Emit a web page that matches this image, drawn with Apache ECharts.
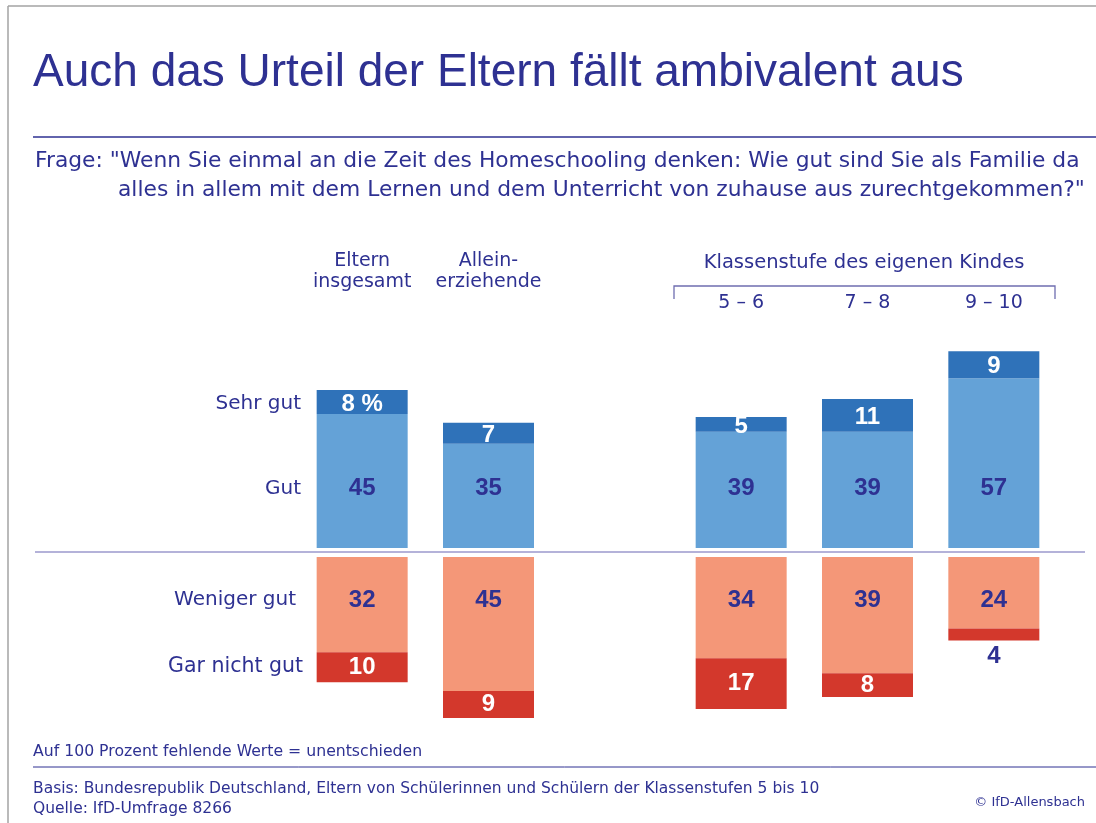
<!DOCTYPE html>
<html>
<head>
<meta charset="utf-8">
<script src="https://cdn.jsdelivr.net/npm/echarts@6/dist/echarts.min.js"></script>
<style>
  html, body { margin: 0; padding: 0; background: #fff; }
  #chart { width: 1096px; height: 823px; }
</style>
</head>
<body>
<div id="chart"></div>
<script>
// columns (the empty one is the gap between the two groups)
const categories = ['Eltern\ninsgesamt\n', 'Allein-\nerziehende\n', '', '5 – 6', '7 – 8', '9 – 10']
const sehrGut = [8, 7, null, 5, 11, 9]
const gut = [45, 35, null, 39, 39, 57]
const wenigerGut = [32, 45, null, 34, 39, 24]
const garNichtGut = [10, 9, null, 17, 8, 4]
const rowLabels = ['Sehr gut', 'Gut', 'Weniger gut', 'Gar nicht gut']

const NAVY = '#2e3192'
const LINE = '#9b98cc'
const FONT = 'Liberation Sans, Arial, sans-serif'
const WIDE = 'DejaVu Sans, sans-serif'

// same pixel scale for both halves
const PX = 2.98
const YMAX = 78
const posBottom = 548
const negTop = 557

const gridLeft = 299
const gridWidth = 758

const barLabel = {
  show: true,
  fontFamily: FONT,
  fontWeight: 'bold',
  fontSize: 24
}

const chart = echarts.init(document.getElementById('chart'))

const option = {
  animation: false,
  backgroundColor: '#fff',
  grid: [
    { left: gridLeft, width: gridWidth, top: posBottom - PX * YMAX, height: PX * YMAX },
    { left: gridLeft, width: gridWidth, top: negTop, height: PX * YMAX }
  ],
  xAxis: [
    {
      type: 'category',
      gridIndex: 0,
      position: 'top',
      data: categories,
      axisLine: { show: false },
      axisTick: { show: false },
      axisLabel: {
        interval: 0,
        margin: 2,
        color: NAVY,
        fontFamily: WIDE,
        fontSize: 19,
        lineHeight: 21
      }
    },
    {
      type: 'category',
      gridIndex: 1,
      data: categories,
      show: false
    }
  ],
  yAxis: [
    { type: 'value', gridIndex: 0, min: 0, max: YMAX, show: false },
    { type: 'value', gridIndex: 1, min: 0, max: YMAX, inverse: true, show: false }
  ],
  series: [
    {
      name: 'Gut',
      type: 'bar',
      stack: 'pos',
      xAxisIndex: 0,
      yAxisIndex: 0,
      barWidth: 91,
      data: gut,
      itemStyle: { color: '#64a2d7' },
      label: { ...barLabel, color: NAVY, position: 'insideBottom', distance: 48 }
    },
    {
      name: 'Sehr gut',
      type: 'bar',
      stack: 'pos',
      xAxisIndex: 0,
      yAxisIndex: 0,
      barWidth: 91,
      data: sehrGut,
      itemStyle: { color: '#2f72b9' },
      label: {
        ...barLabel,
        color: '#fff',
        position: 'inside',
        offset: [0, 2],
        formatter: (p) => (p.dataIndex === 0 ? p.value + ' %' : p.value)
      }
    },
    {
      name: 'Weniger gut',
      type: 'bar',
      stack: 'neg',
      xAxisIndex: 1,
      yAxisIndex: 1,
      barWidth: 91,
      data: wenigerGut,
      itemStyle: { color: '#f49778' },
      label: { ...barLabel, color: NAVY, position: 'insideTop', distance: 31 }
    },
    {
      name: 'Gar nicht gut',
      type: 'bar',
      stack: 'neg',
      xAxisIndex: 1,
      yAxisIndex: 1,
      barWidth: 91,
      // too thin segments get their number below the bar
      data: garNichtGut.map((v) =>
        v != null && v < 6
          ? { value: v, label: { position: 'bottom', color: NAVY, distance: 4 } }
          : v
      ),
      itemStyle: { color: '#d3382c' },
      label: { ...barLabel, color: '#fff', position: 'inside' }
    }
  ],
  graphic: [
    // frame
    { type: 'line', shape: { x1: 8, y1: 6, x2: 1096, y2: 6 }, style: { stroke: '#a3a3a3', lineWidth: 1.5 } },
    { type: 'line', shape: { x1: 8, y1: 6, x2: 8, y2: 823 }, style: { stroke: '#a3a3a3', lineWidth: 1.5 } },
    {
      type: 'text', left: 33, top: 50,
      style: { text: 'Auch das Urteil der Eltern fällt ambivalent aus', fill: NAVY, font: '46px ' + FONT }
    },
    { type: 'line', shape: { x1: 33, y1: 137, x2: 1096, y2: 137 }, style: { stroke: NAVY, lineWidth: 1.5 } },
    {
      type: 'text', left: 35, top: 150,
      style: {
        text: 'Frage: "Wenn Sie einmal an die Zeit des Homeschooling denken: Wie gut sind Sie als Familie da',
        fill: NAVY, font: '21.8px ' + WIDE
      }
    },
    {
      type: 'text', left: 118, top: 179,
      style: {
        text: 'alles in allem mit dem Lernen und dem Unterricht von zuhause aus zurechtgekommen?"',
        fill: NAVY, font: '21.8px ' + WIDE
      }
    },
    // group header with bracket
    {
      type: 'text', x: 864, y: 263,
      style: { text: 'Klassenstufe des eigenen Kindes', fill: NAVY, font: '19.5px ' + WIDE, align: 'center', verticalAlign: 'middle' }
    },
    {
      type: 'polyline',
      shape: { points: [[674, 299], [674, 286], [1055, 286], [1055, 299]] },
      style: { stroke: '#6f6db0', lineWidth: 1.3, fill: null }
    },
    // row labels
    { type: 'text', x: 301, y: 404, style: { text: rowLabels[0], fill: NAVY, font: '20px ' + WIDE, align: 'right', verticalAlign: 'middle' } },
    { type: 'text', x: 301, y: 489, style: { text: rowLabels[1], fill: NAVY, font: '20px ' + WIDE, align: 'right', verticalAlign: 'middle' } },
    { type: 'text', x: 296, y: 600, style: { text: rowLabels[2], fill: NAVY, font: '20px ' + WIDE, align: 'right', verticalAlign: 'middle' } },
    { type: 'text', x: 303, y: 667, style: { text: rowLabels[3], fill: NAVY, font: '20.5px ' + WIDE, align: 'right', verticalAlign: 'middle' } },
    // zero line
    { type: 'line', shape: { x1: 35, y1: 552, x2: 1085, y2: 552 }, style: { stroke: LINE, lineWidth: 1.6 } },
    // footer
    {
      type: 'text', left: 33, top: 744,
      style: { text: 'Auf 100 Prozent fehlende Werte = unentschieden', fill: NAVY, font: '15.7px ' + WIDE }
    },
    { type: 'line', shape: { x1: 33, y1: 767, x2: 1096, y2: 767 }, style: { stroke: NAVY, lineWidth: 1 } },
    {
      type: 'text', left: 33, top: 779,
      style: {
        text: 'Basis: Bundesrepublik Deutschland, Eltern von Schülerinnen und Schülern der Klassenstufen 5 bis 10\nQuelle: IfD-Umfrage 8266',
        fill: NAVY, font: '15.5px ' + WIDE, lineHeight: 20
      }
    },
    {
      type: 'text', x: 1085, y: 803,
      style: { text: '© IfD-Allensbach', fill: NAVY, font: '13px ' + WIDE, align: 'right', verticalAlign: 'middle' }
    }
  ]
}

chart.setOption(option)
</script>
</body>
</html>
